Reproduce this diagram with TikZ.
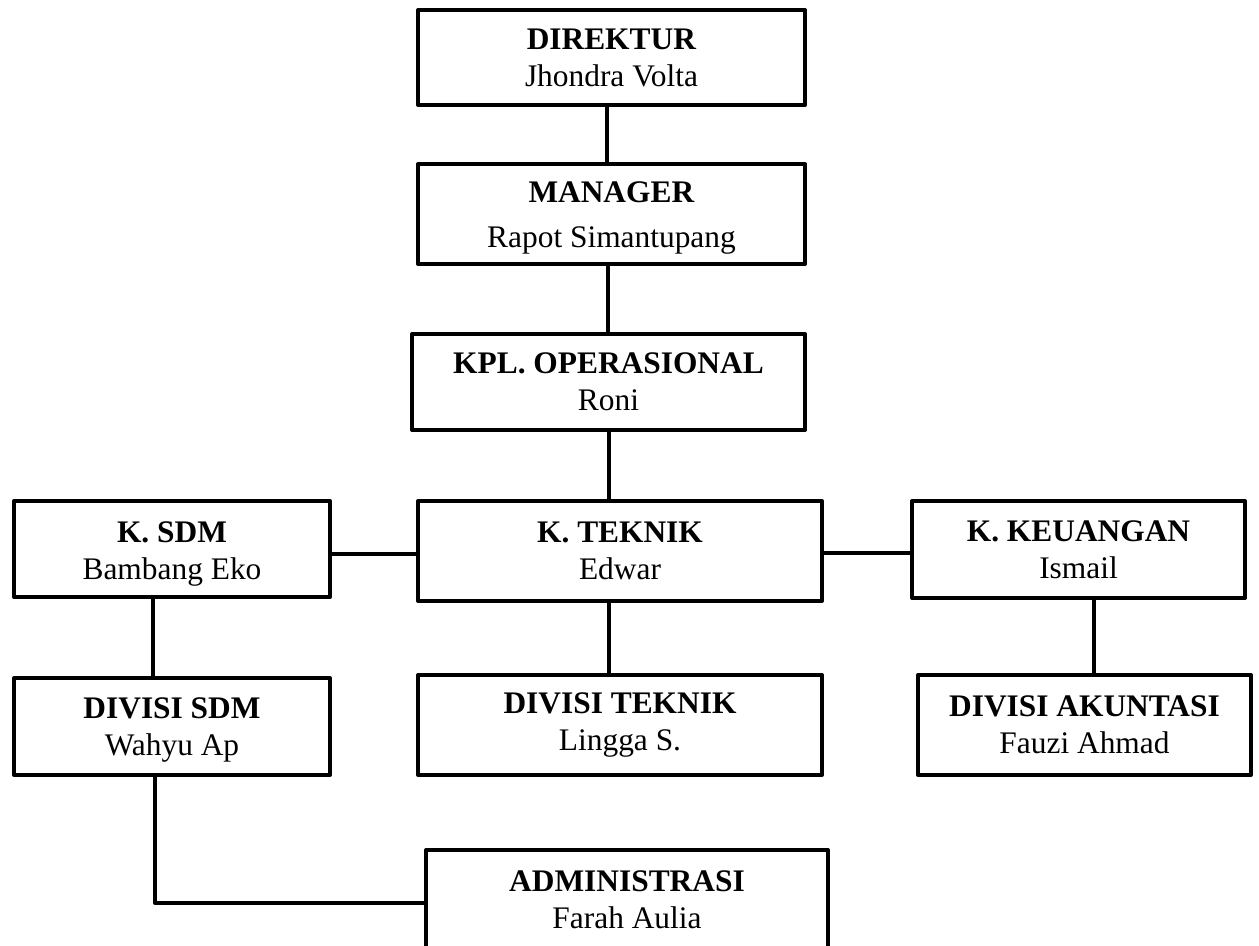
\documentclass[tikz,border=0pt]{standalone}
\usepackage{fontspec}
\setmainfont{Liberation Serif}
\usetikzlibrary{calc}
\tikzset{
    jabatan/.style={draw, line width=2pt, line join=round, inner sep=0pt,
        align=center, font=\fontsize{15.7}{18.5}\selectfont},
    garis/.style={line width=2pt},
}

\begin{document}
\begin{tikzpicture}[x=0.5pt, y=-0.5pt]
    \useasboundingbox (0, 0) rectangle (1259, 946);
    \coordinate (pdirektur) at (611.5, 57.5);
    \coordinate (pmanager) at (611.5, 214);
    \coordinate (pkpl) at (608.5, 382);
    \coordinate (pksdm) at (172, 549);
    \coordinate (pkteknik) at (620, 551);
    \coordinate (pkkeu) at (1078.5, 549.5);
    \node[jabatan, minimum width=193.5pt, minimum height=47.5pt] (direktur)
        at (pdirektur) {\textbf{DIREKTUR}\\Jhondra Volta};
    \node[jabatan, minimum width=193.5pt, minimum height=50pt] (manager)
        at (pmanager) {\rule{0pt}{14pt}\textbf{MANAGER}\\[4pt]Rapot Simantupang};
    \node[jabatan, minimum width=196.5pt, minimum height=48pt] (kpl)
        at (pkpl) {\textbf{KPL. OPERASIONAL}\\Roni};
    \node[jabatan, minimum width=158pt, minimum height=48pt] (ksdm)
        at (pksdm) {\rule{0pt}{15pt}\textbf{K. SDM}\\Bambang Eko};
    \node[jabatan, minimum width=202pt, minimum height=50pt] (kteknik)
        at (pkteknik) {\textbf{K. TEKNIK}\\Edwar};
    \node[jabatan, minimum width=166.5pt, minimum height=48.5pt] (kkeu)
        at (pkkeu) {\textbf{K. KEUANGAN}\\Ismail};
    \node[jabatan, minimum width=158pt, minimum height=48.5pt] (divsdm)
        at (172, 726.5) {\rule{0pt}{14pt}\textbf{DIVISI SDM}\\Wahyu Ap};
    \node[jabatan, minimum width=202pt, minimum height=50pt] (divteknik)
        at (620, 725) {\textbf{DIVISI TEKNIK}\\Lingga S.};
    \node[jabatan, minimum width=166.5pt, minimum height=50pt] (divakun)
        at (1084.5, 725) {\textbf{DIVISI AKUNTASI}\\Fauzi Ahmad};
    \node[jabatan, minimum width=201pt, minimum height=50pt] (admin)
        at (627, 900) {\textbf{ADMINISTRASI}\\Farah Aulia};
    % garis penghubung
    \draw[garis] ([xshift=-2.25pt]direktur.south) -- ([xshift=-2.25pt]manager.north);
    \draw[garis] ([xshift=-2pt]manager.south) -- ([xshift=-2pt]manager.south |- kpl.north);
    \draw[garis] (kpl.south) -- (kpl.south |- kteknik.north);
    \draw[garis] ([yshift=-2.5pt]ksdm.east) -- ([yshift=-2.5pt]ksdm.east -| kteknik.west);
    \draw[garis] ([yshift=-1pt]kteknik.east) -- ([yshift=-1pt]kteknik.east -| kkeu.west);
    \draw[garis] ([xshift=-9.5pt]ksdm.south) -- ([xshift=-9.5pt]ksdm.south |- divsdm.north);
    \draw[garis] ([xshift=-5.5pt]kteknik.south) -- ([xshift=-5.5pt]kteknik.south |- divteknik.north);
    \draw[garis] ([xshift=7.75pt]kkeu.south) -- ([xshift=7.75pt]kkeu.south |- divakun.north);
    \draw[garis, line join=round] ([xshift=-8.5pt]divsdm.south) |- ([yshift=-1.5pt]admin.west);
\end{tikzpicture}
\end{document}
